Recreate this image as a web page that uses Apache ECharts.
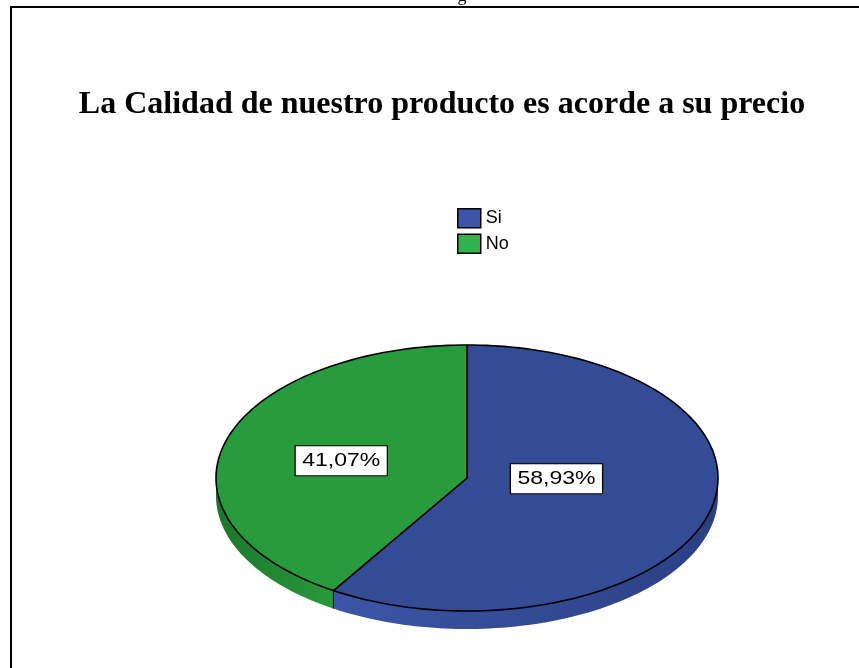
<!DOCTYPE html>
<html>
<head>
<meta charset="utf-8">
<script src="https://cdn.jsdelivr.net/npm/echarts@6/dist/echarts.min.js"></script>
<style>
  html, body { margin: 0; padding: 0; background: #ffffff; }
  #chart { width: 859px; height: 668px; }
</style>
</head>
<body>
<div id="chart"></div>
<script>
// Survey answers and their shares (percent)
const categories = ['Si', 'No'];
const values = [58.93, 41.07];
const titleText = 'La Calidad de nuestro producto es acorde a su precio';

// Palette: top faces, side walls (dark/light ends), legend swatches
const topColors = ['#344b96', '#289b3c'];
const sideColors = [['#3b56a8', '#2b3f82'], ['#1d752d', '#299a3c']];
const legendColors = ['#3c55aa', '#2db54b'];

// Ellipse geometry of the tilted pie
const PIE = { cx: 467, cy: 478, rx: 251, ry: 133, depth: 18 };
const labelShift = [[6, -12], [-6, 1]];

const total = values.reduce((a, b) => a + b, 0);
// Slices run clockwise from twelve o'clock
const slices = [];
let acc = 90;
values.forEach((v) => {
  const sweep = v / total * 360;
  slices.push({ start: acc, end: acc - sweep, value: v });
  acc -= sweep;
});

function pt(deg, dy) {
  const r = deg * Math.PI / 180;
  return [PIE.cx + PIE.rx * Math.cos(r), PIE.cy - PIE.ry * Math.sin(r) + (dy || 0)];
}
function arc(a0, a1, dy) {
  const n = Math.max(8, Math.ceil(Math.abs(a1 - a0) / 1.5));
  const out = [];
  for (let i = 0; i <= n; i++) out.push(pt(a0 + (a1 - a0) * i / n, dy));
  return out;
}
function fmt(v) {
  return (v / total * 100).toFixed(2).replace('.', ',') + '%';
}

function renderSlice(idx) {
  return function () {
    const s = slices[idx];
    const children = [];
    const lo = Math.min(s.start, s.end), hi = Math.max(s.start, s.end);
    // front-facing wall segments (lower half of the ellipse)
    for (let k = -1; k <= 1; k++) {
      const a = Math.max(lo, -180 + 360 * k), b = Math.min(hi, 360 * k);
      if (b - a > 0.01) {
        const top = arc(a, b, 0);
        const bottom = arc(b, a, PIE.depth);
        children.push({
          type: 'polygon',
          z2: 1,
          shape: { points: top.concat(bottom) },
          style: {
            fill: new echarts.graphic.LinearGradient(0, 0, 1, 0, [
              { offset: 0, color: sideColors[idx][0] },
              { offset: 1, color: sideColors[idx][1] }
            ]),
            stroke: null
          }
        });
      }
    }
    // wall edge where a slice boundary faces the viewer
    if (idx === 0) {
      const sn = Math.sin(s.end * Math.PI / 180);
      if (sn < -0.05) {
        const p = pt(s.end, 0);
        children.push({
          type: 'line', z2: 2,
          shape: { x1: p[0], y1: p[1], x2: p[0], y2: p[1] + PIE.depth },
          style: { stroke: '#111', lineWidth: 1.2 }
        });
      }
    }
    // top face
    const pts = [[PIE.cx, PIE.cy]].concat(arc(s.start, s.end, 0));
    children.push({
      type: 'polygon', z2: 5,
      shape: { points: pts },
      style: { fill: topColors[idx], stroke: '#000', lineWidth: 1.6, lineJoin: 'round' }
    });
    // value label near the sector centroid
    const half = Math.abs(s.start - s.end) / 2 * Math.PI / 180;
    const d = 2 * Math.sin(half) / (3 * half);
    const mid = (s.start + s.end) / 2 * Math.PI / 180;
    const lx = PIE.cx + PIE.rx * d * Math.cos(mid) + labelShift[idx][0];
    const ly = PIE.cy - PIE.ry * d * Math.sin(mid) + labelShift[idx][1];
    children.push({
      type: 'text', z2: 20,
      x: lx, y: ly, scaleX: 1.28,
      style: {
        text: fmt(s.value),
        x: 0, y: 0,
        align: 'center', verticalAlign: 'middle',
        font: '18px "Liberation Sans", Arial, sans-serif',
        fill: '#000',
        backgroundColor: '#fff',
        borderColor: '#000', borderWidth: 1,
        padding: [5, 5, 4, 5],
        lineHeight: 20
      }
    });
    return { type: 'group', children };
  };
}

const chart = echarts.init(document.getElementById('chart'), null, { renderer: 'canvas' });
chart.setOption({
  backgroundColor: '#ffffff',
  animation: false,
  title: {
    text: titleText,
    left: 442, top: 89,
    padding: 0,
    textAlign: 'center',
    textStyle: {
      fontFamily: '"Liberation Serif", "Times New Roman", serif',
      fontWeight: 'bold', fontSize: 32, color: '#000'
    }
  },
  legend: {
    orient: 'vertical',
    left: 457, top: 208,
    padding: 0,
    itemWidth: 23, itemHeight: 19, itemGap: 5,
    icon: 'rect',
    selectedMode: false,
    data: categories.map((c, i) => ({
      name: c,
      itemStyle: { color: legendColors[i], borderColor: '#000', borderWidth: 1.5 }
    })),
    textStyle: { fontFamily: '"Liberation Sans", Arial, sans-serif', fontSize: 18, color: '#000' }
  },
  graphic: [
    { type: 'rect', shape: { x: 11, y: 7, width: 900, height: 700 },
      style: { fill: null, stroke: '#000', lineWidth: 2 }, silent: true },
    { type: 'text', style: { text: 'g', x: 462, y: -13, align: 'center',
      font: '18px "Liberation Serif", serif', fill: '#000' }, silent: true }
  ],
  series: categories.map((c, i) => ({
    type: 'custom',
    name: c,
    coordinateSystem: 'none',
    itemStyle: { color: topColors[i] },
    data: [[values[i]]],
    renderItem: renderSlice(i)
  }))
});
</script>
</body>
</html>
